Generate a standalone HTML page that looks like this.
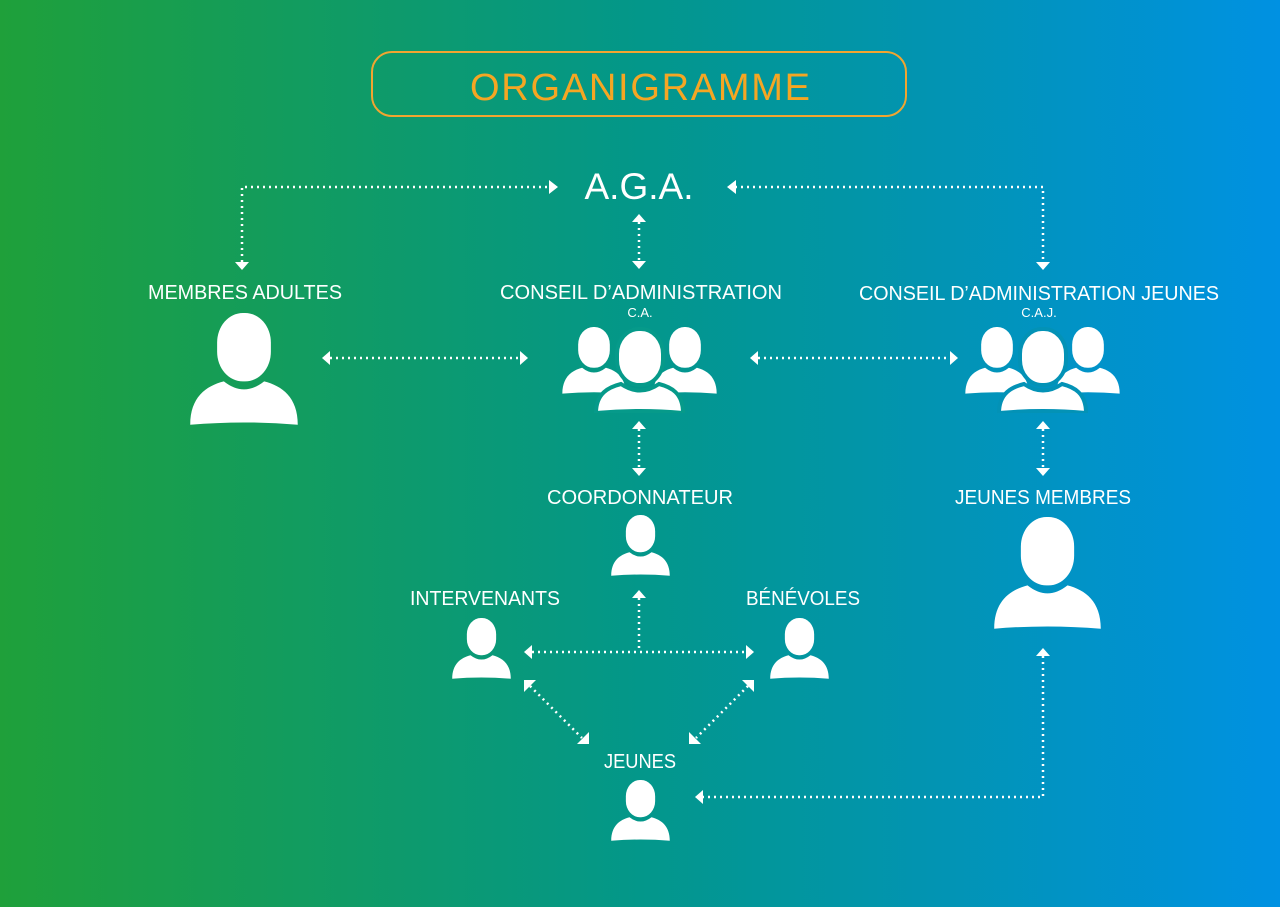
<!DOCTYPE html>
<html><head><meta charset="utf-8"><style>html,body{margin:0;padding:0}svg{display:block}</style></head>
<body>
<svg width="1280" height="907" viewBox="0 0 1280 907" xmlns="http://www.w3.org/2000/svg" font-family="Liberation Sans, sans-serif">
<defs>
<linearGradient id="bg" x1="0" y1="0" x2="1" y2="0">
<stop offset="0" stop-color="#1fa03a"/><stop offset="0.5" stop-color="#03978a"/><stop offset="1" stop-color="#0091e2"/>
</linearGradient>
<symbol id="p" viewBox="0 0 100 100" preserveAspectRatio="none">
<rect x="26" y="0" width="48" height="60" rx="23" ry="26" fill="#fff"/>
<path d="M2,98 C2,74 16,64 32,60 Q50,74 68,60 C84,64 98,74 98,98 Q50,94 2,98Z" fill="#fff"/>
</symbol>
<symbol id="g1" viewBox="0 0 157 86" preserveAspectRatio="none">
<use href="#p" x="0" y="0" width="66" height="68"/>
<use href="#p" x="91" y="0" width="66" height="68"/>
<rect x="56" y="2" width="46" height="56" rx="22" ry="25" fill="#fff" stroke="#069a8a" stroke-width="4"/>
<path d="M35,86 C35,66 48,60 60,57 Q79,70 98,57 C110,60 122,66 122,86 Q79,82 35,86Z" fill="#fff" stroke="#069a8a" stroke-width="4"/>
</symbol>
<symbol id="g2" viewBox="0 0 157 86" preserveAspectRatio="none">
<use href="#p" x="0" y="0" width="66" height="68"/>
<use href="#p" x="91" y="0" width="66" height="68"/>
<rect x="56" y="2" width="46" height="56" rx="22" ry="25" fill="#fff" stroke="#0392b6" stroke-width="4"/>
<path d="M35,86 C35,66 48,60 60,57 Q79,70 98,57 C110,60 122,66 122,86 Q79,82 35,86Z" fill="#fff" stroke="#0392b6" stroke-width="4"/>
</symbol>
</defs>
<rect width="1280" height="907" fill="url(#bg)"/>
<rect x="372" y="52" width="534" height="64" rx="20" fill="none" stroke="#f2a530" stroke-width="2"/>
<text x="640" y="100" text-anchor="middle" font-size="38" fill="#f5a623" textLength="340" lengthAdjust="spacing">ORGANIGRAMME</text>
<text x="639" y="199" text-anchor="middle" font-size="37" fill="#fff">A.G.A.</text>
<g fill="#fff" font-size="20" text-anchor="middle">
<text x="245" y="299" textLength="194" lengthAdjust="spacingAndGlyphs">MEMBRES ADULTES</text>
<text x="641" y="299" textLength="282" lengthAdjust="spacingAndGlyphs">CONSEIL D’ADMINISTRATION</text>
<text x="640" y="317" font-size="13">C.A.</text>
<text x="1039" y="300" textLength="360" lengthAdjust="spacingAndGlyphs">CONSEIL D’ADMINISTRATION JEUNES</text>
<text x="1039" y="317" font-size="13">C.A.J.</text>
<text x="640" y="504" textLength="186" lengthAdjust="spacingAndGlyphs">COORDONNATEUR</text>
<text x="1043" y="504" textLength="176" lengthAdjust="spacingAndGlyphs">JEUNES MEMBRES</text>
<text x="485" y="605" textLength="150" lengthAdjust="spacingAndGlyphs">INTERVENANTS</text>
<text x="803" y="605" textLength="114" lengthAdjust="spacingAndGlyphs">BÉNÉVOLES</text>
<text x="640" y="768" textLength="72" lengthAdjust="spacingAndGlyphs">JEUNES</text>
</g>
<use href="#p" x="188" y="313" width="112" height="114"/>
<use href="#p" x="992" y="517" width="111" height="114"/>
<use href="#p" x="610" y="515" width="61" height="62"/>
<use href="#p" x="451" y="618" width="61" height="62"/>
<use href="#p" x="769" y="618" width="61" height="62"/>
<use href="#p" x="610" y="780" width="61" height="62"/>
<use href="#g1" x="561" y="327" width="157" height="86"/>
<use href="#g2" x="964" y="327" width="157" height="86"/>
<g fill="none" stroke="#fff" stroke-width="2.5" stroke-dasharray="2 4">
<polyline points="242,262 242,187 550,187"/>
<polyline points="735,187 1043,187 1043,262"/>
<line x1="639" y1="222" x2="639" y2="262"/>
<line x1="330" y1="358" x2="520" y2="358"/>
<line x1="758" y1="358" x2="950" y2="358"/>
<line x1="639" y1="429" x2="639" y2="470"/>
<line x1="1043" y1="429" x2="1043" y2="470"/>
<line x1="639" y1="598" x2="639" y2="652"/>
<line x1="532" y1="652" x2="746" y2="652"/>
<line x1="530" y1="686" x2="582" y2="738"/>
<line x1="748" y1="686" x2="696" y2="738"/>
<polyline points="1043,656 1043,797 703,797"/>
</g>
<g fill="#fff">
<polygon points="235,262 249,262 242,270"/>
<polygon points="549,180 549,194 558,187"/>
<polygon points="736,180 736,194 727,187"/>
<polygon points="1036,262 1050,262 1043,270"/>
<polygon points="632,222 646,222 639,214"/>
<polygon points="632,261 646,261 639,269"/>
<polygon points="330,351 330,365 322,358"/>
<polygon points="520,351 520,365 528,358"/>
<polygon points="758,351 758,365 750,358"/>
<polygon points="950,351 950,365 958,358"/>
<polygon points="632,429 646,429 639,421"/>
<polygon points="632,468 646,468 639,476"/>
<polygon points="1036,429 1050,429 1043,421"/>
<polygon points="1036,468 1050,468 1043,476"/>
<polygon points="632,598 646,598 639,590"/>
<polygon points="532,645 532,659 524,652"/>
<polygon points="746,645 746,659 754,652"/>
<polygon points="524,680 536,680 524,692"/>
<polygon points="589,744 577,744 589,732"/>
<polygon points="754,680 742,680 754,692"/>
<polygon points="689,744 701,744 689,732"/>
<polygon points="1036,656 1050,656 1043,648"/>
<polygon points="703,790 703,804 695,797"/>
</g>
</svg>
</body></html>
